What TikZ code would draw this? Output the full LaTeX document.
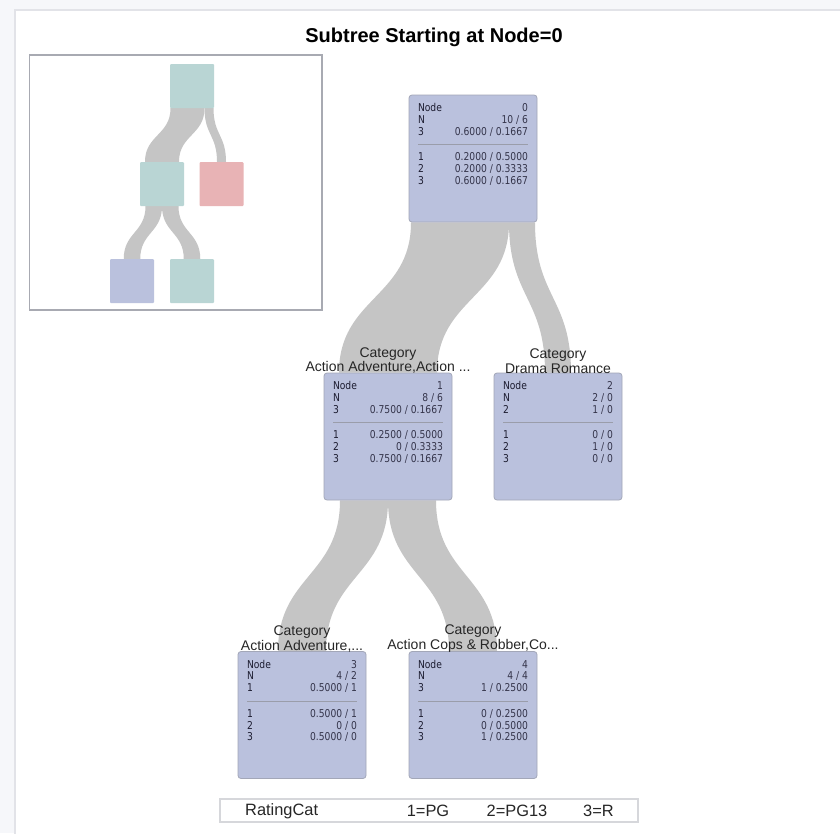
\documentclass[tikz,border=0pt]{standalone}
\usepackage{fontspec}
\usepackage{array}
\setmainfont{Liberation Sans}
\newfontfamily\statfont{DejaVu Sans}[FakeStretch=0.85]
\usetikzlibrary{calc,positioning,backgrounds}

\definecolor{boxblue}{HTML}{BAC1DD}
\definecolor{boxedge}{HTML}{A3A7B8}
\definecolor{bandgray}{HTML}{C5C5C5}
\definecolor{minigreen}{HTML}{B9D5D4}
\definecolor{minired}{HTML}{E8B3B5}
\definecolor{sepgray}{HTML}{9A9DAA}
\definecolor{labelink}{HTML}{1C1C30}
\definecolor{valink}{HTML}{34344A}
\definecolor{pagegray}{HTML}{F6F7FA}
\definecolor{paneledge}{HTML}{E2E3E8}
\definecolor{frameedge}{HTML}{A8AAB2}
\definecolor{legendedge}{HTML}{D6D7DB}

% band from parent (offset from its south, width) to child
\newcommand{\band}[4]{%
  \fill[bandgray] let \p1=($(#1.south)+(#2,0)$), \p2=(#4.north), \p3=($(\p1)!0.5!(\p2)$) in
    (\x1,\y1) .. controls (\x1,\y3) and (\x2-#3/2,\y3) .. (\x2-#3/2,\y2)
    -- (\x2+#3/2,\y2) .. controls (\x2+#3/2,\y3) and (\x1+#3,\y3) .. (\x1+#3,\y1) -- cycle;}

\newcommand{\statrows}[7]{%
  \begin{tabular*}{110pt}{@{\extracolsep{\fill}}>{\color{labelink}}l r@{}}
  Node & #1\\ N & #2\\ #3 & #4\\[1pt]
  \multicolumn{2}{@{}c@{}}{\textcolor{sepgray}{\rule[3pt]{110pt}{0.7pt}}}\\[1pt]
  1 & #5\\ 2 & #6\\ 3 & #7
  \end{tabular*}}

\begin{document}
\begin{tikzpicture}[x=1pt,y=-1pt,
  statbox/.style={rectangle, rounded corners=3pt, fill=boxblue, draw=boxedge, line width=0.8pt,
    minimum width=128pt, minimum height=127pt, inner sep=0pt},
  stattext/.style={inner sep=0pt, font=\statfont\fontsize{10.8}{11.8}\selectfont, text=valink},
  splitlabel/.style={align=center, inner sep=0pt, font=\fontsize{14}{14.5}\selectfont, text=black!85},
  minibox/.style={rectangle, rounded corners=1pt, minimum size=44pt, inner sep=0pt},
  legendtext/.style={inner sep=0pt, font=\fontsize{16.4}{16.4}\selectfont, text=black!85}]
\useasboundingbox (0,0) rectangle (840,833);

\node[font=\bfseries\fontsize{20}{20}\selectfont] (title) at (434,37.5) {Subtree Starting at Node=0};

% overview
\draw[frameedge, line width=1.3pt] (29.5,55) rectangle (322,310);
\node[minibox, fill=minigreen] (m0) at (192,86) {};
\node[minibox, fill=minigreen] (m1) at (162,184) {};
\node[minibox, fill=minired] (m2) at (221.5,184) {};
\node[minibox, fill=boxblue] (m3) at (132,281) {};
\node[minibox, fill=minigreen] (m4) at (192,281) {};

% tree
\node[statbox] (n0) at (473,158.5) {};
\node[stattext, below=8.5pt of n0.north] (n0t) {\statrows{0}{10 / 6}{3}{0.6000 / 0.1667}{0.2000 / 0.5000}{0.2000 / 0.3333}{0.6000 / 0.1667}};

\node[statbox] (n1) at (388,436.5) {};
\node[stattext, below=8.5pt of n1.north] (n1t) {\statrows{1}{8 / 6}{3}{0.7500 / 0.1667}{0.2500 / 0.5000}{0 / 0.3333}{0.7500 / 0.1667}};
\node[splitlabel, above=-1pt of n1.north] (l1) {Category\\Action Adventure,Action ...};

\node[statbox] (n2) at (558,436.5) {};
\node[stattext, below=8.5pt of n2.north] (n2t) {\statrows{2}{2 / 0}{2}{1 / 0}{0 / 0}{1 / 0}{0 / 0}};
\node[splitlabel, above=-1pt of n2.north] (l2) {Category\\Drama Romance};

\node[statbox] (n3) at (302,715) {};
\node[stattext, below=8.5pt of n3.north] (n3t) {\statrows{3}{4 / 2}{1}{0.5000 / 1}{0.5000 / 1}{0 / 0}{0.5000 / 0}};
\node[splitlabel, above=-1pt of n3.north] (l3) {Category\\Action Adventure,...};

\node[statbox] (n4) at (473,715) {};
\node[stattext, below=8.5pt of n4.north] (n4t) {\statrows{4}{4 / 4}{3}{1 / 0.2500}{0 / 0.2500}{0 / 0.5000}{1 / 0.2500}};
\node[splitlabel, above=-1pt of n4.north] (l4) {Category\\Action Cops \& Robber,Co...};

% legend
\node[draw=legendedge, line width=1.2pt, minimum width=418pt, minimum height=23pt, inner sep=0pt] (legend) at (429,810.5) {};
\node[legendtext, anchor=west] (lgname) at (245,811) {RatingCat};
\node[legendtext] (lg1) at (428,811) {1=PG};
\node[legendtext] (lg2) at (517,811) {2=PG13};
\node[legendtext] (lg3) at (598.5,811) {3=R};

\begin{scope}[on background layer]
\fill[pagegray] (0,0) rectangle (840,833);
\filldraw[fill=white, draw=paneledge, line width=1.3pt] (15,10) rectangle (850,845);
\band{n0}{-62}{98}{n1}
\band{n0}{36}{26}{n2}
\band{n1}{-48}{48}{n3}
\band{n1}{0}{48}{n4}
\band{m0}{-21.5}{34}{m1}
\band{m0}{12.5}{9}{m2}
\band{m1}{-16.5}{16.5}{m3}
\band{m1}{0}{16.5}{m4}
\end{scope}

\end{tikzpicture}
\end{document}
